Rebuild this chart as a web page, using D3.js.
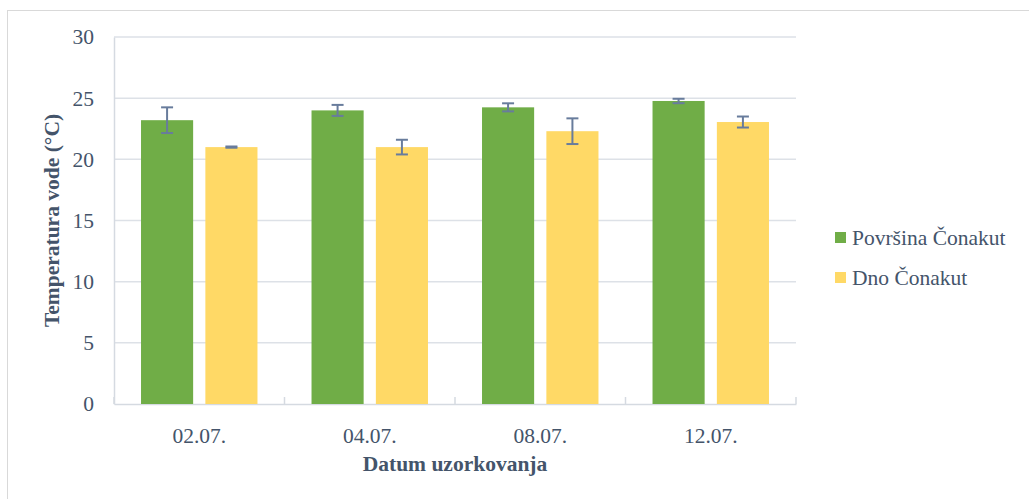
<!DOCTYPE html>
<html>
<head>
<meta charset="utf-8">
<script src="https://cdn.jsdelivr.net/npm/d3@7"></script>
<style>
  body { margin: 0; background: #ffffff; }
  svg { display: block; }
</style>
</head>
<body>
<div id="chart"></div>
<script>
const width = 1029;
const height = 499;
const serif = "'Liberation Serif', 'Times New Roman', Times, 'DejaVu Serif', serif";

// Data
const dates = ['02.07.', '04.07.', '08.07.', '12.07.'];
const seriesNames = ['Površina Čonakut', 'Dno Čonakut'];
const surfaceValues = [23.2, 24.0, 24.25, 24.77];
const surfaceErrors = [1.05, 0.45, 0.33, 0.18];
const bottomValues = [21.0, 21.0, 22.3, 23.05];
const bottomErrors = [0.05, 0.6, 1.05, 0.45];
const yTicks = [0, 5, 10, 15, 20, 25, 30];
const colors = ['#70ad47', '#ffd966'];

const margin = {left: 114, top: 37, right: 233, bottom: 95};
const plotW = width - margin.left - margin.right;
const plotH = height - margin.top - margin.bottom;

const svg = d3.select('#chart').append('svg')
    .attr('width', width)
    .attr('height', height);

// outer chart border
svg.append('rect')
    .attr('x', 7.5)
    .attr('y', 10.5)
    .attr('width', width + 20)
    .attr('height', height + 20)
    .style('fill', 'none')
    .style('stroke', '#d9d9d9')
    .style('stroke-width', 1);

const g = svg.append('g')
    .attr('transform', `translate(${margin.left},${margin.top})`);

const x0 = d3.scaleBand()
    .domain(dates)
    .range([0, plotW])
    .paddingInner(0)
    .paddingOuter(0);

const x1 = d3.scaleBand()
    .domain(seriesNames)
    .range([0, x0.bandwidth()])
    .paddingInner(0.19)
    .paddingOuter(0.42);

const y = d3.scaleLinear()
    .domain([0, 30])
    .range([plotH, 0]);

// gridlines
g.append('g')
    .selectAll('line')
    .data(yTicks.filter(d => d > 0))
    .enter()
    .append('line')
    .attr('x1', 0)
    .attr('x2', plotW)
    .attr('y1', d => y(d))
    .attr('y2', d => y(d))
    .style('stroke', '#dde1e7')
    .style('stroke-width', 1.5);

// y axis
const yAxis = g.append('g')
    .call(d3.axisLeft(y).tickValues(yTicks).tickSize(0).tickPadding(20))
    .attr('font-family', serif);
yAxis.select('.domain').style('stroke', '#d5dae1').style('stroke-width', 1.5);
yAxis.selectAll('text')
    .style('font-family', serif)
    .style('font-size', '21.5px')
    .style('fill', '#44546a');

// x axis
const xAxis = g.append('g')
    .attr('transform', `translate(0,${plotH})`)
    .call(d3.axisBottom(x0).tickSize(0).tickPadding(24))
    .attr('font-family', serif);
xAxis.select('.domain').style('stroke', '#d5dae1').style('stroke-width', 1.5);
xAxis.selectAll('text')
    .style('font-family', serif)
    .style('font-size', '21.5px')
    .style('fill', '#44546a');

// band boundary tick marks pointing up
g.append('g')
    .selectAll('line')
    .data(dates.concat(['end']))
    .enter()
    .append('line')
    .attr('x1', (d, i) => i * x0.bandwidth())
    .attr('x2', (d, i) => i * x0.bandwidth())
    .attr('y1', plotH)
    .attr('y2', plotH - 7)
    .style('stroke', '#d5dae1')
    .style('stroke-width', 1.5);

// bars
const rows = dates.map((d, i) => ({
    date: d,
    items: [
        {name: seriesNames[0], value: surfaceValues[i], err: surfaceErrors[i], color: colors[0]},
        {name: seriesNames[1], value: bottomValues[i], err: bottomErrors[i], color: colors[1]}
    ]
}));

const groups = g.selectAll('.group')
    .data(rows)
    .enter()
    .append('g')
    .attr('transform', d => `translate(${x0(d.date)},0)`);

groups.selectAll('rect')
    .data(d => d.items)
    .enter()
    .append('rect')
    .attr('x', d => x1(d.name))
    .attr('width', x1.bandwidth())
    .attr('y', d => y(d.value))
    .attr('height', d => plotH - y(d.value))
    .style('fill', d => d.color);

// error bars
const errColor = '#687c9c';
const cap = 6;
const eb = groups.selectAll('.err')
    .data(d => d.items)
    .enter()
    .append('g');

eb.append('line')
    .attr('x1', d => x1(d.name) + x1.bandwidth() / 2)
    .attr('x2', d => x1(d.name) + x1.bandwidth() / 2)
    .attr('y1', d => y(d.value + d.err))
    .attr('y2', d => y(d.value - d.err))
    .style('stroke', errColor)
    .style('stroke-width', 2);

eb.append('line')
    .attr('x1', d => x1(d.name) + x1.bandwidth() / 2 - cap)
    .attr('x2', d => x1(d.name) + x1.bandwidth() / 2 + cap)
    .attr('y1', d => y(d.value + d.err))
    .attr('y2', d => y(d.value + d.err))
    .style('stroke', errColor)
    .style('stroke-width', 2);

eb.append('line')
    .attr('x1', d => x1(d.name) + x1.bandwidth() / 2 - cap)
    .attr('x2', d => x1(d.name) + x1.bandwidth() / 2 + cap)
    .attr('y1', d => y(d.value - d.err))
    .attr('y2', d => y(d.value - d.err))
    .style('stroke', errColor)
    .style('stroke-width', 2);

// axis titles
svg.append('text')
    .attr('x', margin.left + plotW / 2)
    .attr('y', 471)
    .attr('text-anchor', 'middle')
    .style('font-family', serif)
    .style('fill', '#44546a')
    .style('font-size', '21.5px')
    .style('font-weight', 'bold')
    .text('Datum uzorkovanja');

svg.append('text')
    .attr('transform', `translate(59,${margin.top + plotH / 2}) rotate(-90)`)
    .attr('text-anchor', 'middle')
    .style('font-family', serif)
    .style('fill', '#44546a')
    .style('font-size', '21.5px')
    .style('font-weight', 'bold')
    .text('Temperatura vode (°C)');

// legend
const legend = svg.append('g')
    .attr('transform', 'translate(835,232)');

const li = legend.selectAll('g')
    .data(seriesNames)
    .enter()
    .append('g')
    .attr('transform', (d, i) => `translate(0,${i * 40})`);

li.append('rect')
    .attr('width', 11)
    .attr('height', 11)
    .style('fill', (d, i) => colors[i]);

li.append('text')
    .attr('x', 17)
    .attr('y', 13)
    .style('font-family', serif)
    .style('fill', '#44546a')
    .style('font-size', '21.5px')
    .text(d => d);
</script>
</body>
</html>
